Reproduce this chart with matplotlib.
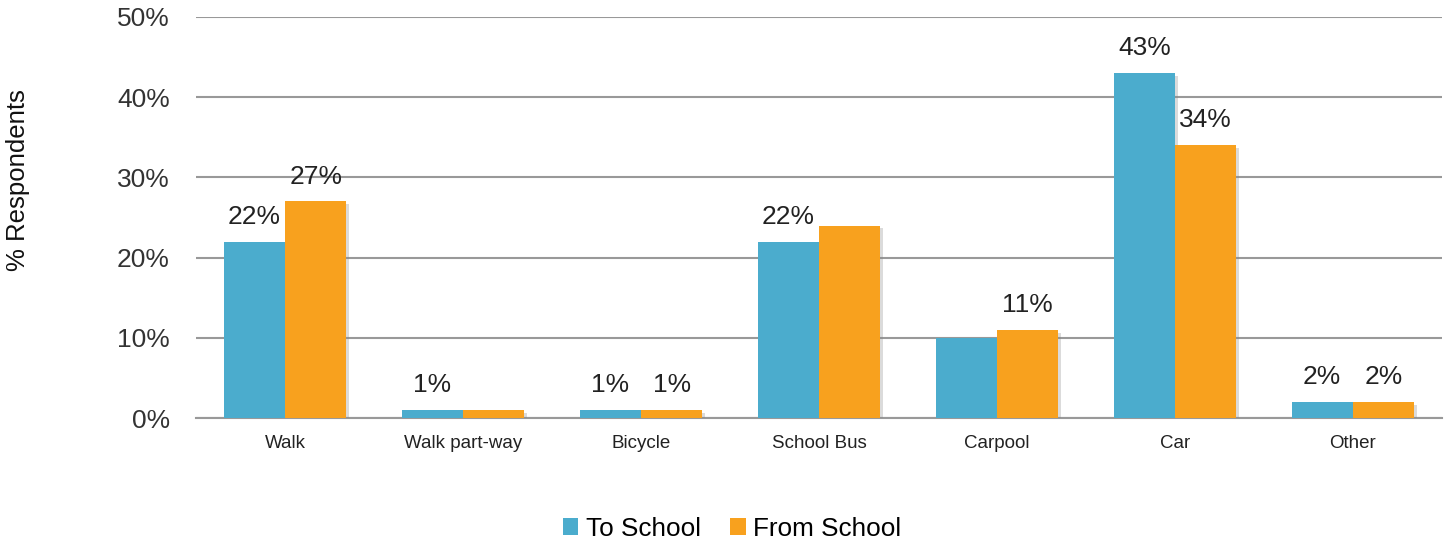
import matplotlib
matplotlib.use("Agg")
import matplotlib.pyplot as plt
import matplotlib.patheffects as pe
from matplotlib.patches import Patch
import numpy as np

categories = ["Walk", "Walk part-way", "Bicycle", "School Bus", "Carpool", "Car", "Other"]
to_school = [22, 1, 1, 22, 10, 43, 2]
from_school = [27, 1, 1, 24, 11, 34, 2]
to_labels = ["22%", "1%", "1%", "22%", "", "43%", "2%"]
from_labels = ["27%", "", "1%", "", "11%", "34%", "2%"]
yticks = [0, 10, 20, 30, 40, 50]
ytick_labels = ["0%", "10%", "20%", "30%", "40%", "50%"]

blue = "#4BACCD"
orange = "#F8A11E"
plt.rcParams['font.family'] = ['Liberation Sans', 'DejaVu Sans']

fig = plt.figure(figsize=(14.47, 5.44), dpi=100)
ax = fig.add_axes([0.1355, 0.2316, 0.861, 0.7372])

x = np.arange(len(categories))
w = 0.345
shadow = [pe.SimplePatchShadow(offset=(2, -2), shadow_rgbFace='#888888', alpha=0.3), pe.Normal()]
ax.bar(x - w/2, to_school, w, color=blue, zorder=3, path_effects=shadow)
ax.bar(x + w/2, from_school, w, color=orange, zorder=3, path_effects=shadow)

for xi, v, t in zip(x - w/2, to_school, to_labels):
    if t:
        ax.text(xi, v + 1.6, t, ha='center', va='bottom', fontsize=19, color='#222222')
for xi, v, t in zip(x + w/2, from_school, from_labels):
    if t:
        ax.text(xi, v + 1.6, t, ha='center', va='bottom', fontsize=19, color='#222222')

ax.set_xlim(-0.5, len(categories) - 0.5)
ax.set_ylim(0, 50)
ax.set_yticks(yticks)
ax.set_yticklabels(ytick_labels, fontsize=19, color='#333333')
ax.set_xticks(x)
ax.set_xticklabels(categories, fontsize=13.5, color='#222222')
ax.tick_params(axis='x', length=0, pad=12.5)
ax.tick_params(axis='y', length=0, pad=19)
ax.yaxis.grid(True, color='#999999', linewidth=1.5, zorder=0)
ax.set_axisbelow(True)
for s in ['top', 'right', 'left']:
    ax.spines[s].set_visible(False)
ax.spines['bottom'].set_color('#999999')
ax.spines['bottom'].set_linewidth(1.5)

ax.set_ylabel("% Respondents", fontsize=18.5, color='#111111')
ax.yaxis.set_label_coords(-0.133, 0.594)

handles = [Patch(facecolor=blue, label="To School"), Patch(facecolor=orange, label="From School")]
fig.legend(handles=handles, loc='center', bbox_to_anchor=(0.506, 0.028), ncol=2,
           frameon=False, fontsize=18.8, handlelength=0.6, handleheight=0.6,
           handletextpad=0.3, columnspacing=1.1, borderpad=0)

fig.savefig("out.png", dpi=100)
